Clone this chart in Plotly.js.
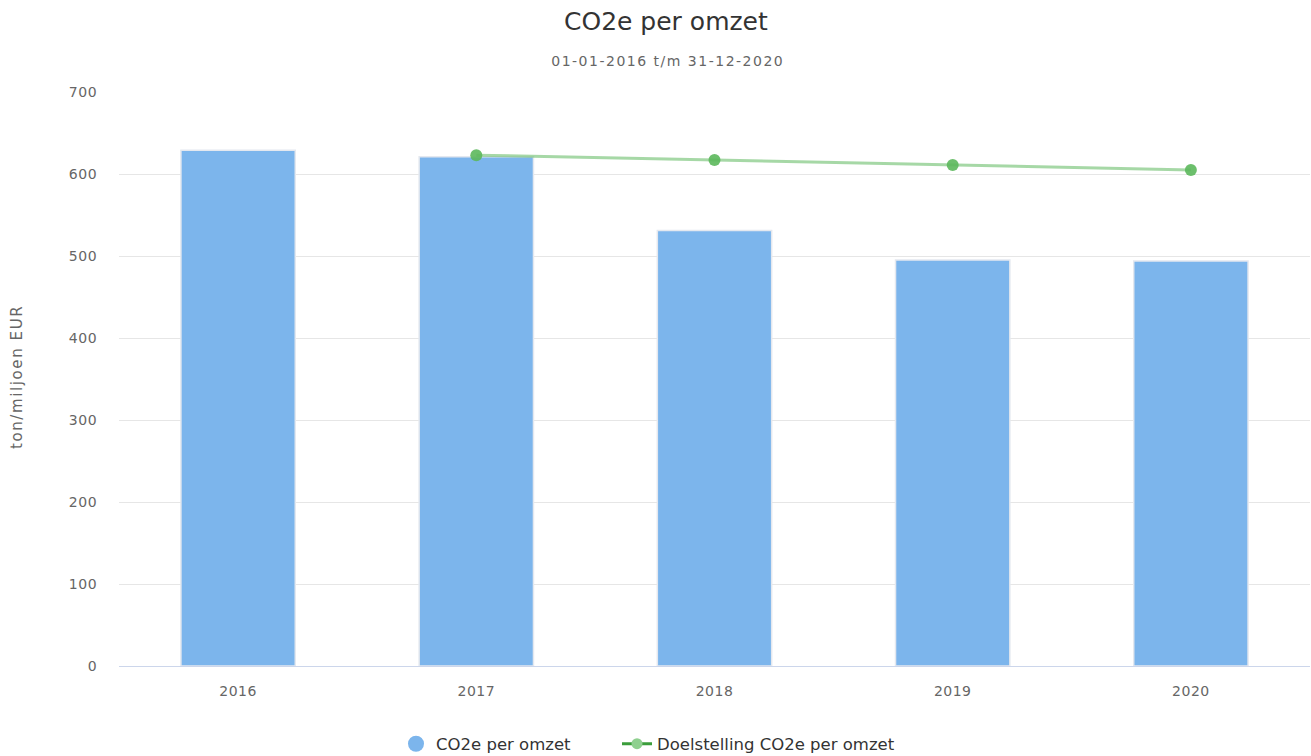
<!DOCTYPE html>
<html>
<head>
<meta charset="utf-8">
<script src="https://cdn.plot.ly/plotly-3.0.1.min.js"></script>
<style>html,body{margin:0;padding:0;background:#fff;}#chart{width:1311px;height:756px;}</style>
</head>
<body>
<div id="chart"></div>
<script>
var years = ["2016", "2017", "2018", "2019", "2020"];
var co2PerOmzet = [629, 621, 531, 495, 494];
var targetYears = ["2017", "2018", "2019", "2020"];
var targetValues = [623, 617, 611, 605];
var yTicks = [0, 100, 200, 300, 400, 500, 600, 700];

var FONT = "DejaVu Sans, Noto Sans, sans-serif";

var traces = [
  {
    type: "bar",
    x: years,
    y: co2PerOmzet,
    name: "CO2e per omzet",
    showlegend: false,
    width: 0.48,
    marker: { color: "#7cb5ec", line: { color: "#e4e8ef", width: 1.5 } },
    hoverinfo: "x+y"
  },
  {
    type: "scatter",
    mode: "lines+markers",
    x: targetYears,
    y: targetValues,
    name: "Doelstelling CO2e per omzet",
    showlegend: false,
    line: { color: "rgba(92,184,92,0.55)", width: 3 },
    marker: { color: "rgba(92,184,92,0.9)", size: 12 }
  },
  {
    type: "scatter",
    mode: "markers",
    x: [null],
    y: [null],
    name: "CO2e per omzet",
    legend: "legend",
    marker: { color: "#7cb5ec", size: 16, symbol: "circle" },
    hoverinfo: "skip"
  },
  {
    type: "scatter",
    mode: "lines+markers",
    x: [null],
    y: [null],
    name: "Doelstelling CO2e per omzet",
    legend: "legend2",
    line: { color: "#3a9d3a", width: 3 },
    marker: { color: "#8fd08f", size: 11 },
    hoverinfo: "skip"
  }
];

function px2x(px) { return (px - 119) / 1191; }
function px2y(py) { return (666 - py) / 574; }

var legendFont = { family: FONT, size: 16.5, color: "#333333" };

var layout = {
  width: 1311,
  height: 756,
  margin: { l: 119, r: 1, t: 92, b: 90, autoexpand: false },
  paper_bgcolor: "#ffffff",
  plot_bgcolor: "#ffffff",
  font: { family: FONT, size: 14, color: "#666666" },
  showlegend: true,
  legend: {
    orientation: "h",
    x: px2x(396), xanchor: "left",
    y: px2y(744), yanchor: "middle",
    font: legendFont,
    itemwidth: 30,
    bgcolor: "rgba(0,0,0,0)"
  },
  legend2: {
    orientation: "h",
    x: px2x(617), xanchor: "left",
    y: px2y(744), yanchor: "middle",
    font: legendFont,
    itemwidth: 30,
    bgcolor: "rgba(0,0,0,0)"
  },
  xaxis: {
    type: "category",
    tickvals: years,
    ticktext: years,
    showgrid: false,
    showline: true,
    linecolor: "#ccd6eb",
    linewidth: 1,
    ticks: "outside",
    ticklen: 12,
    tickcolor: "rgba(0,0,0,0)",
    tickfont: { family: FONT, size: 14, color: "#666666" },
    zeroline: false,
    automargin: false,
    fixedrange: true
  },
  yaxis: {
    range: [0, 700],
    tickvals: yTicks,
    showgrid: true,
    gridcolor: "#e6e6e6",
    gridwidth: 1,
    zeroline: false,
    showline: false,
    ticks: "outside",
    ticklen: 18,
    tickcolor: "rgba(0,0,0,0)",
    tickfont: { family: FONT, size: 14, color: "#666666" },
    automargin: false,
    fixedrange: true
  },
  annotations: [
    {
      text: "CO2e per omzet",
      xref: "paper", yref: "paper",
      x: px2x(666), y: px2y(22),
      xanchor: "center", yanchor: "middle",
      showarrow: false,
      font: { family: FONT, size: 25, color: "#333333" }
    },
    {
      text: "01-01-2016 t/m 31-12-2020",
      xref: "paper", yref: "paper",
      x: px2x(667), y: px2y(61),
      xanchor: "center", yanchor: "middle",
      showarrow: false,
      font: { family: FONT, size: 14, color: "#666666" }
    },
    {
      text: "ton/miljoen EUR",
      xref: "paper", yref: "paper",
      x: px2x(17), y: px2y(377),
      xanchor: "center", yanchor: "middle",
      textangle: -90,
      showarrow: false,
      font: { family: FONT, size: 15, color: "#666666" }
    }
  ]
};

Plotly.newPlot("chart", traces, layout, { displayModeBar: false }).then(function (gd) {
  function ls(sel, v) {
    gd.querySelectorAll(sel).forEach(function (el) { el.style.letterSpacing = v; });
  }
  var ann = gd.querySelectorAll(".annotation-text");
  if (ann[1]) ann[1].style.letterSpacing = "1.5px";
  if (ann[2]) ann[2].style.letterSpacing = "1.6px";
  ls(".xtick text", "0.5px");
  ls(".ytick text", "0.6px");
});
</script>
</body>
</html>
